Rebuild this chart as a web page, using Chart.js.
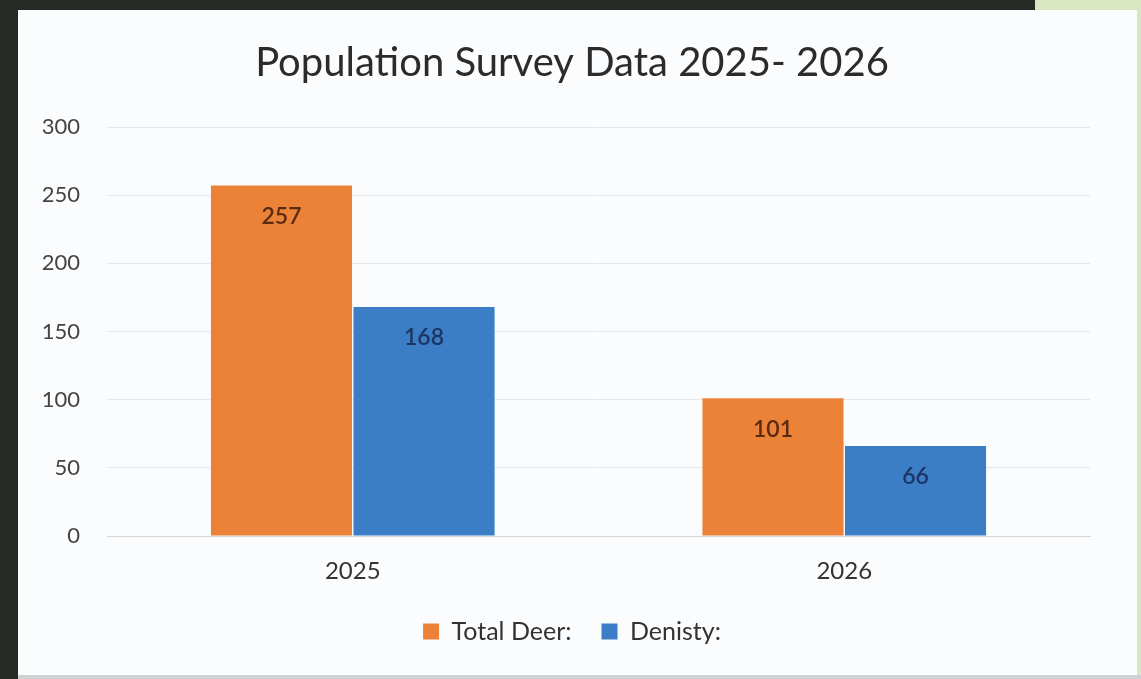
<!DOCTYPE html>
<html>
<head>
<meta charset="utf-8">
<script src="https://cdn.jsdelivr.net/npm/chart.js@4"></script>
<style>
  html, body { margin: 0; padding: 0; }
  body { width: 1141px; height: 679px; background: #252a24; position: relative; overflow: hidden; }
  #green { position: absolute; left: 1035px; top: 0; width: 106px; height: 679px; background: #d9e6c2; }
  #card { position: absolute; left: 18px; top: 10px; width: 1119px; height: 665px; background: #fbfcfe; }
  #bottomLine { position: absolute; left: 18px; top: 675px; width: 1123px; height: 4px; background: #cfd2d3; }
</style>
</head>
<body>
<div id="green"></div>
<div id="card"><canvas id="surveyChart" width="1119" height="665"></canvas></div>
<div id="bottomLine"></div>
<script>
const years = ['2025', '2026'];
const totalDeer = [257, 101];
const density = [168, 66];
const yTicks = [0, 50, 100, 150, 200, 250, 300];

const fontFam = 'Lato, "Open Sans", sans-serif';

// значения внутри столбцов, у верхнего края
const insideLabels = {
    id: 'insideLabels',
    afterDatasetsDraw(chart) {
        const ctx = chart.ctx;
        const colors = ['#5b2a12', '#1c3564'];
        chart.data.datasets.forEach((ds, i) => {
            chart.getDatasetMeta(i).data.forEach((bar, j) => {
                ctx.save();
                ctx.font = '600 23px ' + fontFam;
                ctx.fillStyle = colors[i];
                ctx.textAlign = 'center';
                ctx.textBaseline = 'middle';
                ctx.fillText(ds.data[j], bar.x, bar.y + 31);
                ctx.restore();
            });
        });
    }
};

const canvas = document.getElementById('surveyChart');
const ctx = canvas.getContext('2d');

new Chart(ctx, {
    type: 'bar',
    data: {
        labels: years,
        datasets: [{
            label: 'Total Deer:',
            data: totalDeer,
            backgroundColor: '#ec8237',
            borderWidth: 0
        }, {
            label: 'Denisty:',
            data: density,
            backgroundColor: '#3b7ec6',
            borderWidth: 0
        }]
    },
    options: {
        responsive: false,
        animation: false,
        categoryPercentage: 0.58,
        barPercentage: 0.99,
        layout: { padding: { left: 0, right: 11, top: 0, bottom: 21 } },
        plugins: {
            title: {
                display: true,
                text: 'Population Survey Data 2025- 2026',
                color: '#2b2b2b',
                font: { family: fontFam, size: 40, weight: 'normal' },
                padding: { top: 29, bottom: 40 }
            },
            legend: {
                display: true,
                position: 'bottom',
                labels: {
                    color: '#333',
                    font: { family: fontFam, size: 25 },
                    boxWidth: 16,
                    boxHeight: 16,
                    padding: 30
                }
            },
            tooltip: { enabled: false }
        },
        scales: {
            x: {
                afterFit(scale) { scale.height = 53; },
                grid: { display: false, drawTicks: false },
                border: { display: true, color: '#d6d6d6' },
                ticks: { color: '#333', font: { family: fontFam, size: 24 }, padding: 21 }
            },
            y: {
                min: 0,
                max: 300,
                afterBuildTicks(scale) {
                    scale.ticks = yTicks.map(v => ({ value: v }));
                },
                afterFit(scale) { scale.width = 89; },
                grid: { color: '#e6e7e9', drawTicks: false },
                border: { display: false },
                ticks: { color: '#444', font: { family: fontFam, size: 22 }, padding: 27 }
            },
            // пустая ось справа, только чтобы отодвинуть область графика
            yRight: {
                position: 'right',
                min: 0,
                max: 300,
                afterFit(scale) { scale.width = 36; },
                grid: { display: false, drawTicks: false },
                border: { display: false },
                ticks: { display: false }
            }
        }
    },
    plugins: [insideLabels]
});
</script>
</body>
</html>
